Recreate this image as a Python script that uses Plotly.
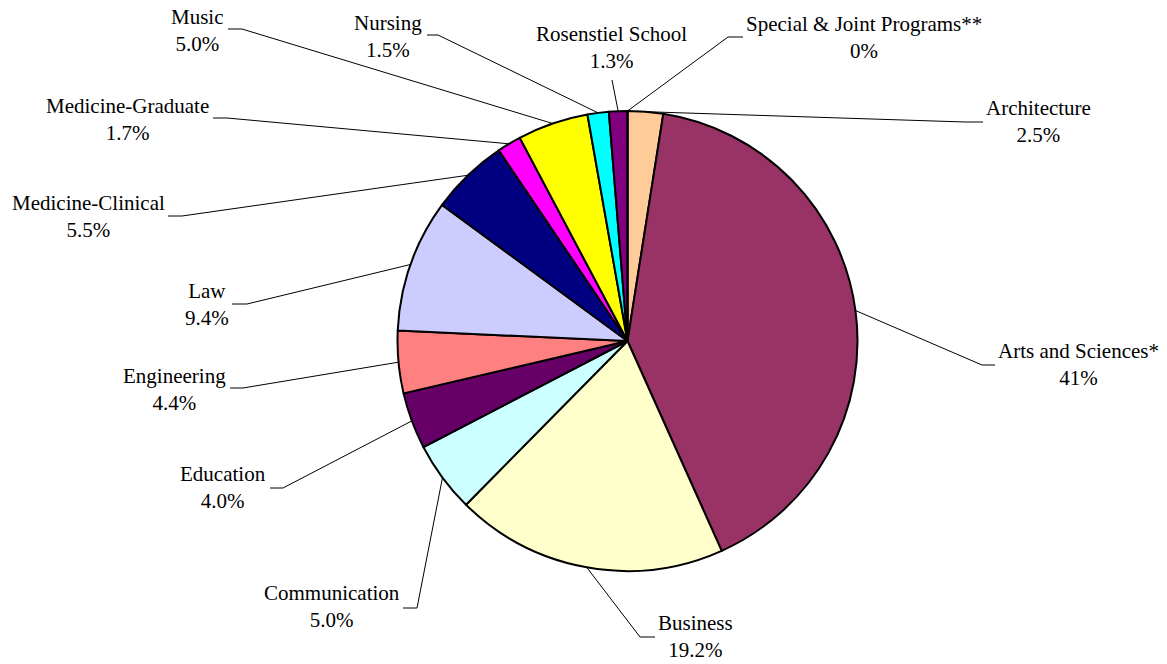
import math
import plotly.graph_objects as go

# ---- data ----
labels = ["Architecture", "Arts and Sciences*", "Business", "Communication", "Education",
          "Engineering", "Law", "Medicine-Clinical", "Medicine-Graduate", "Music",
          "Nursing", "Rosenstiel School", "Special & Joint Programs**"]
values = [2.5, 41, 19.2, 5.0, 4.0, 4.4, 9.4, 5.5, 1.7, 5.0, 1.5, 1.3, 0]
pct_text = ["2.5%", "41%", "19.2%", "5.0%", "4.0%", "4.4%", "9.4%", "5.5%", "1.7%",
            "5.0%", "1.5%", "1.3%", "0%"]
colors = ["#FFCC99", "#993366", "#FFFFCC", "#CCFFFF", "#660066", "#FF8080", "#CCCCFF",
          "#000080", "#FF00FF", "#FFFF00", "#00FFFF", "#800080", "#800000"]

# ---- layout (pixel positions of labels and leader elbows) ----
W, H = 1167, 664
CX, CY, R = 627.5, 341, 230
# (text center x, text block center y, elbow x near text, elbow x toward pie, elbow y)
label_pos = [
    (1038, 121.5, 983, 965, 122),
    (1078, 364, 995, 982, 365),
    (695, 636.5, 655, 640, 637),
    (332, 606, 403, 417, 608),
    (223, 487.5, 270, 283, 488),
    (174, 389, 230, 243, 388),
    (207, 304, 232, 247, 304),
    (88, 216, 168, 182, 216),
    (127, 119.5, 213, 227, 118),
    (197, 30.5, 228, 242, 29),
    (388, 36, 427, 438, 35),
    (611, 47, 612, 612, 80),
    (864, 37.5, 743, 728, 37),
]

FONT = dict(family="Liberation Serif", size=21, color="black")

fig = go.Figure()
fig.add_trace(go.Pie(
    labels=labels, values=values, sort=False, direction="clockwise", rotation=0,
    marker=dict(colors=colors, line=dict(color="black", width=2)),
    textinfo="none", hoverinfo="none", showlegend=False,
    domain=dict(x=[(CX - R) / W, (CX + R) / W], y=[1 - (CY + R) / H, 1 - (CY - R) / H]),
))

total = sum(values)
cum = 0.0
shapes = []
annotations = []
for lab, v, pt, (tx, ty, ex1, ex2, ey) in zip(labels, values, pct_text, label_pos):
    theta = (cum + v / 2) / total * 2 * math.pi
    cum += v
    px = CX + R * math.sin(theta)
    py = CY - R * math.cos(theta)
    shapes.append(dict(type="path", xref="x", yref="y",
                       path=f"M {ex1} {ey} L {ex2} {ey} L {px:.2f} {py:.2f}",
                       line=dict(color="black", width=1)))
    annotations.append(dict(x=tx, y=ty, xref="x", yref="y", text=f"{lab}<br>{pt}",
                            showarrow=False, xanchor="center", yanchor="middle",
                            align="center", font=FONT))

fig.update_layout(
    width=W, height=H, margin=dict(l=0, r=0, t=0, b=0),
    paper_bgcolor="white", plot_bgcolor="rgba(0,0,0,0)",
    font=FONT,
    xaxis=dict(range=[0, W], visible=False, domain=[0, 1], fixedrange=True),
    yaxis=dict(range=[H, 0], visible=False, domain=[0, 1], fixedrange=True),
    shapes=shapes, annotations=annotations, showlegend=False,
)

fig.write_html("out.html", config={"displayModeBar": False},
               post_script="document.body.style.margin='0';")
